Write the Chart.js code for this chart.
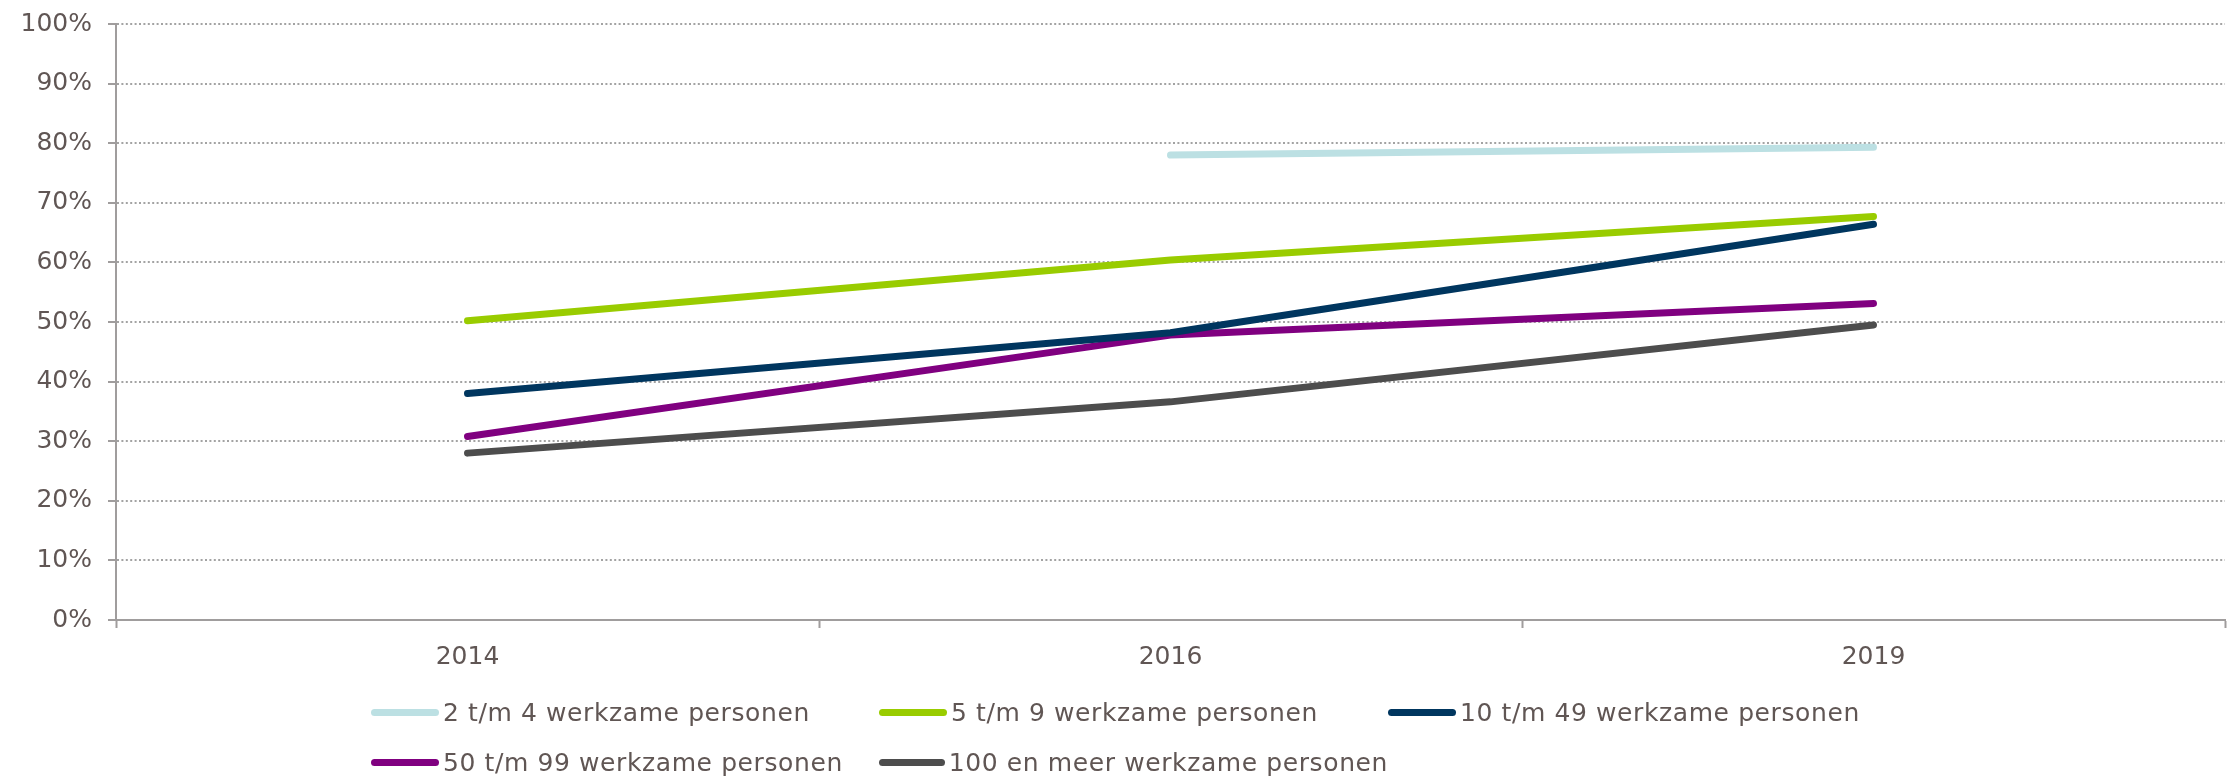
<!DOCTYPE html>
<html lang="nl">
<head>
<meta charset="UTF-8">
<title>Werkzame personen</title>
<script src="https://cdn.jsdelivr.net/npm/chart.js"></script>
<style>
    body { margin: 0; background: #fff; }
    .wrap { position: relative; width: 2227px; height: 779px; }
    #grafiek { position: absolute; left: 0; top: 0; }
    .legenda { position: absolute; left: 371px; top: 695px; width: 1650px;
        display: grid; grid-template-columns: 508px 509px 600px; row-gap: 16px;
        font-family: 'DejaVu Sans', Verdana, sans-serif; font-size: 25px; letter-spacing: 0.6px; color: #605654; }
    .legenda div { display: flex; align-items: center; height: 34px; white-space: nowrap; }
    .legenda span.lijn { display: inline-block; width: 68px; height: 7px; border-radius: 4px; margin-right: 4px; }
</style>
</head>
<body>
<div class="wrap">
    <canvas id="grafiek" width="2227" height="779"></canvas>
    <div class="legenda" id="legenda"></div>
</div>

<script>
    // data
    var jaren = ['2014', '2016', '2019'];
    var reeks2tm4 = [null, 78.0, 79.3];
    var reeks5tm9 = [50.2, 60.4, 67.7];
    var reeks10tm49 = [38.0, 48.2, 66.4];
    var reeks50tm99 = [30.8, 47.8, 53.1];
    var reeks100plus = [28.0, 36.6, 49.5];
    var namen = ['2 t/m 4 werkzame personen', '5 t/m 9 werkzame personen', '10 t/m 49 werkzame personen',
        '50 t/m 99 werkzame personen', '100 en meer werkzame personen'];
    var kleuren = ['#bce0e3', '#99cc00', '#00365f', '#800080', '#4d4d4d'];

    var tekstKleur = '#605654';
    var asKleur = '#a09d9d';
    var lettertype = { family: "'DejaVu Sans', Verdana, sans-serif", size: 25 };

    var series = [reeks2tm4, reeks5tm9, reeks10tm49, reeks50tm99, reeks100plus];
    var datasets = [];
    for (var i = 0; i < series.length; i++) {
        datasets.push({
            label: namen[i],
            data: series[i],
            borderColor: kleuren[i],
            backgroundColor: kleuren[i],
            borderWidth: 7,
            borderCapStyle: 'round',
            borderJoinStyle: 'round',
            pointRadius: 0,
            tension: 0,
            spanGaps: false
        });
    }

    var ctx = document.getElementById('grafiek').getContext('2d');
    var grafiek = new Chart(ctx, {
        type: 'line',
        data: { labels: jaren, datasets: datasets },
        options: {
            responsive: false,
            animation: false,
            layout: { padding: { top: 24, right: 2, bottom: 99, left: 0 } },
            plugins: { legend: { display: false }, tooltip: { enabled: false } },
            scales: {
                x: {
                    offset: true,
                    grid: { offset: true, drawOnChartArea: false, drawTicks: true, tickLength: 8,
                        tickColor: asKleur, tickWidth: 2 },
                    border: { color: asKleur, width: 2 },
                    ticks: { color: tekstKleur, font: lettertype, padding: 14, maxRotation: 0 },
                    afterFit: function (as) { as.height = 60; }
                },
                y: {
                    min: 0,
                    max: 100,
                    grid: { color: '#a3a3a3', lineWidth: 2, tickLength: 8, tickColor: asKleur, tickWidth: 2,
                        tickBorderDash: [] },
                    border: { color: asKleur, width: 2, dash: [2, 2.4] },
                    ticks: { stepSize: 10, color: tekstKleur, font: lettertype, padding: 16,
                        callback: function (v) { return v + '%'; } },
                    afterFit: function (as) {
                        as.width = 116;
                        as.paddingTop = 8; // bovenrand zelf bepalen via layout.padding
                    }
                }
            }
        }
    });

    // legenda in twee rijen
    var legenda = document.getElementById('legenda');
    grafiek.data.datasets.forEach(function (ds) {
        var item = document.createElement('div');
        item.innerHTML = '<span class="lijn" style="background:' + ds.borderColor + '"></span>' + ds.label;
        legenda.appendChild(item);
    });
</script>
</body>
</html>
